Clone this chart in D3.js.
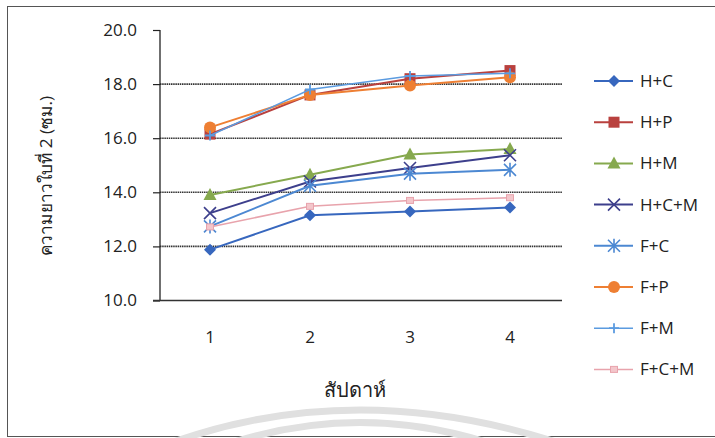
<!DOCTYPE html>
<html><head><meta charset="utf-8">
<script src="https://cdn.jsdelivr.net/npm/d3@7"></script>
<style>
body{margin:0;background:#fff;}
text{font-family:"Open Sans","Noto Sans",sans-serif;fill:#222;}
</style></head>
<body>
<svg id="c" width="715" height="438"></svg>
<script>
const weeks = ["1","2","3","4"];
const yTicks = [10,12,14,16,18,20];
const seriesNames = ["H+C","H+P","H+M","H+C+M","F+C","F+P","F+M","F+C+M"];
const hc   = [11.88,13.15,13.29,13.44];
const hp   = [16.15,17.6,18.2,18.5];
const hm   = [13.9,14.65,15.4,15.6];
const hcm  = [13.23,14.4,14.9,15.37];
const fc   = [12.74,14.24,14.69,14.83];
const fp   = [16.4,17.6,17.95,18.25];
const fm   = [16.1,17.8,18.3,18.4];
const fcm  = [12.72,13.48,13.7,13.8];
const seriesValues = [hc,hp,hm,hcm,fc,fp,fm,fcm];
const colors = ["#3767BE","#B9413E","#86A94E","#3D3F8C","#4C88D2","#EE7F33","#5B9BE0","#E8A3AC"];
const widths = [2,2,2,2,2,2,1.5,1.5];
const shapes = ["diamond","square","triangle","x","asterisk","circle","plus","smallsquare"];

const svg = d3.select("#c");
// frame
svg.append("rect").attr("x",7.5).attr("y",6.5).attr("width",715).attr("height",430)
  .attr("fill","none").attr("stroke","#555").attr("stroke-width",1);

// watermark arcs
svg.append("path").attr("d","M165,445 Q355,375 565,445").attr("fill","none").attr("stroke","#e0e0e0").attr("stroke-width",7);
svg.append("path").attr("d","M225,445 Q360,400 495,445").attr("fill","none").attr("stroke","#e0e0e0").attr("stroke-width",7);

const x = d3.scaleBand().domain(weeks).range([160,560]);
const y = d3.scaleLinear().domain([10,20]).range([300.5,30]);

// gridlines
svg.append("g").selectAll("line").data(yTicks.filter(t=>t>10&&t<20)).join("line")
  .attr("x1",160).attr("x2",562).attr("y1",d=>y(d)).attr("y2",d=>y(d))
  .attr("stroke","#333").attr("stroke-width",1.6).attr("stroke-dasharray","1.5,0.7");

// y axis
const ya = svg.append("g").attr("transform","translate(160,0)")
  .call(d3.axisLeft(y).tickValues(yTicks).tickFormat(d3.format(".1f")).tickSize(7).tickPadding(16));
ya.select(".domain").attr("stroke","#222").attr("stroke-width",1.3).attr("d","M0,30V300.5");
ya.selectAll(".tick line").attr("stroke","#222").attr("stroke-width",1.2);
ya.selectAll("text").attr("font-size",17).attr("fill","#222").attr("font-family","Open Sans");

// x axis
const xa = svg.append("g").attr("transform","translate(0,300.5)")
  .call(d3.axisBottom(x).tickSize(0).tickPadding(30));
xa.select(".domain").attr("stroke","#333").attr("stroke-width",1.6).attr("d","M153,0H562");
xa.selectAll("text").attr("font-size",17).attr("fill","#222").attr("font-family","Open Sans");

// axis titles
svg.append("text").attr("transform","translate(52,176) rotate(-90)").attr("text-anchor","middle")
  .attr("x",0).attr("y",0)
  .attr("font-size",17).attr("font-weight","normal").attr("fill","#111")
  .attr("textLength",160).attr("lengthAdjust","spacingAndGlyphs")
  .text("ความยาวใบที่ 2 (ซม.)");
svg.append("text").attr("x",355).attr("y",397).attr("text-anchor","middle")
  .attr("font-size",20).text("สัปดาห์");

function marker(g, shape, color, cx, cy){
  switch(shape){
    case "diamond": g.append("path").attr("d",`M${cx},${cy-6}L${cx+6},${cy}L${cx},${cy+6}L${cx-6},${cy}Z`).attr("fill",color); break;
    case "square": g.append("rect").attr("x",cx-5.5).attr("y",cy-5.5).attr("width",11).attr("height",11).attr("fill",color); break;
    case "triangle": g.append("path").attr("d",`M${cx},${cy-7}L${cx+6.5},${cy+5}L${cx-6.5},${cy+5}Z`).attr("fill",color); break;
    case "x": g.append("path").attr("d",`M${cx-6},${cy-6}L${cx+6},${cy+6}M${cx-6},${cy+6}L${cx+6},${cy-6}`).attr("stroke",color).attr("stroke-width",1.6); break;
    case "asterisk": g.append("path").attr("d",`M${cx-6},${cy-6}L${cx+6},${cy+6}M${cx-6},${cy+6}L${cx+6},${cy-6}M${cx},${cy-7}L${cx},${cy+7}`).attr("stroke",color).attr("stroke-width",1.6); break;
    case "circle": g.append("circle").attr("cx",cx).attr("cy",cy).attr("r",6).attr("fill",color); break;
    case "plus": g.append("path").attr("d",`M${cx-5},${cy}L${cx+5},${cy}M${cx},${cy-5}L${cx},${cy+5}`).attr("stroke",color).attr("stroke-width",1.8); break;
    case "smallsquare": g.append("rect").attr("x",cx-3.5).attr("y",cy-3).attr("width",7).attr("height",6).attr("fill","#f3c6cb").attr("stroke",color).attr("stroke-width",1); break;
  }
}

const line = d3.line().x((d,i)=>x(weeks[i])+x.bandwidth()/2).y(d=>y(d));
seriesValues.forEach((vals,k)=>{
  const g = svg.append("g");
  g.append("path").attr("d",line(vals)).attr("fill","none").attr("stroke",colors[k]).attr("stroke-width",widths[k]);
  vals.forEach((v,i)=>marker(g,shapes[k],colors[k],x(weeks[i])+x.bandwidth()/2,y(v)));
});

// legend
const lg = svg.append("g");
seriesNames.forEach((n,k)=>{
  const ly = 81 + k*41.2;
  lg.append("line").attr("x1",594).attr("x2",633).attr("y1",ly).attr("y2",ly).attr("stroke",colors[k]).attr("stroke-width",widths[k]);
  marker(lg,shapes[k],colors[k],614,ly);
  lg.append("text").attr("x",640).attr("y",ly+6).attr("font-size",17).text(n);
});
</script>
</body></html>
